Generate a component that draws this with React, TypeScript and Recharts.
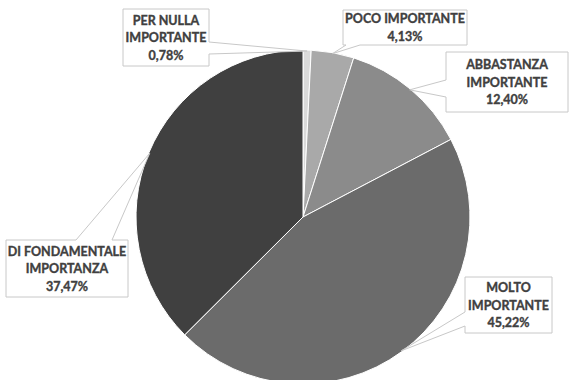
import React from "react";
import { PieChart, Pie, Cell } from "recharts";

const categories = [
  "PER NULLA IMPORTANTE",
  "POCO IMPORTANTE",
  "ABBASTANZA IMPORTANTE",
  "MOLTO IMPORTANTE",
  "DI FONDAMENTALE IMPORTANZA",
];
const values = [0.78, 4.13, 12.4, 45.22, 37.47];
const labelLines = [
  ["PER NULLA", "IMPORTANTE"],
  ["POCO IMPORTANTE"],
  ["ABBASTANZA", "IMPORTANTE"],
  ["MOLTO", "IMPORTANTE"],
  ["DI FONDAMENTALE", "IMPORTANZA"],
];
const colors = ["#dadada", "#a9a9a9", "#8b8b8b", "#6b6b6b", "#404040"];

// callout box layout (styling), relative to the chart
const boxes = [
  { x: 123, y: 9, w: 86, h: 57, side: "right", b1: 42, b2: 54 },
  { x: 343, y: 10, w: 124, h: 35, side: "bottom", b1: 346, b2: 360 },
  { x: 446, y: 52, w: 122, h: 60, side: "left", b1: 80, b2: 97 },
  { x: 465, y: 277, w: 87, h: 56, side: "left", b1: 312, b2: 326 },
  { x: 6, y: 240, w: 122, h: 57, side: "top", b1: 76, b2: 112 },
];

const data = categories.map((c, i) => ({ name: c, value: values[i] }));

function calloutPath(b: any, tx: number, ty: number) {
  const { x, y, w, h, side, b1, b2 } = b;
  const r = x + w;
  const btm = y + h;
  const pts: number[][] = [[x, y]];
  if (side === "top") pts.push([b1, y], [tx, ty], [b2, y]);
  pts.push([r, y]);
  if (side === "right") pts.push([r, b1], [tx, ty], [r, b2]);
  pts.push([r, btm]);
  if (side === "bottom") pts.push([b2, btm], [tx, ty], [b1, btm]);
  pts.push([x, btm]);
  if (side === "left") pts.push([x, b2], [tx, ty], [x, b1]);
  return "M" + pts.map((p) => p[0] + "," + p[1]).join("L") + "Z";
}

const renderLabel = (props: any) => {
  const { cx, cy, midAngle, outerRadius, index } = props;
  const RAD = Math.PI / 180;
  const tx = cx + (outerRadius - 1) * Math.cos(-midAngle * RAD);
  const ty = cy + (outerRadius - 1) * Math.sin(-midAngle * RAD);
  const b = boxes[index];
  const lines = [...labelLines[index], values[index].toFixed(2).replace(".", ",") + "%"];
  const lh = 17.5;
  const startY = b.y + b.h / 2 - ((lines.length - 1) * lh) / 2;
  return (
    <g key={"lbl" + index}>
      <path d={calloutPath(b, tx, ty)} fill="#ffffff" stroke="#c8c8c8" strokeWidth={1} />
      <text
        x={b.x + b.w / 2}
        textAnchor="middle"
        fontFamily="Lato, 'Open Sans', sans-serif"
        fontWeight="bold"
        fontSize={12.5}
        fill="#404040"
        stroke="#404040"
        strokeWidth={0.35}
      >
        {lines.map((l, i) => (
          <tspan key={i} x={b.x + b.w / 2} y={startY + i * lh} dominantBaseline="central">
            {l}
          </tspan>
        ))}
      </text>
    </g>
  );
};

export default function App() {
  return (
    <div style={{ position: "absolute", left: 0, top: 0, width: 572, height: 380, background: "#fff" }}>
      <PieChart width={572} height={380}>
        <Pie
          data={data}
          dataKey="value"
          nameKey="name"
          cx={298}
          cy={212}
          outerRadius={167}
          startAngle={90}
          endAngle={-270}
          stroke="#ffffff"
          strokeWidth={1}
          label={renderLabel}
          labelLine={false}
          isAnimationActive={false}
        >
          {data.map((d, i) => (
            <Cell key={d.name} fill={colors[i]} />
          ))}
        </Pie>
      </PieChart>
    </div>
  );
}
